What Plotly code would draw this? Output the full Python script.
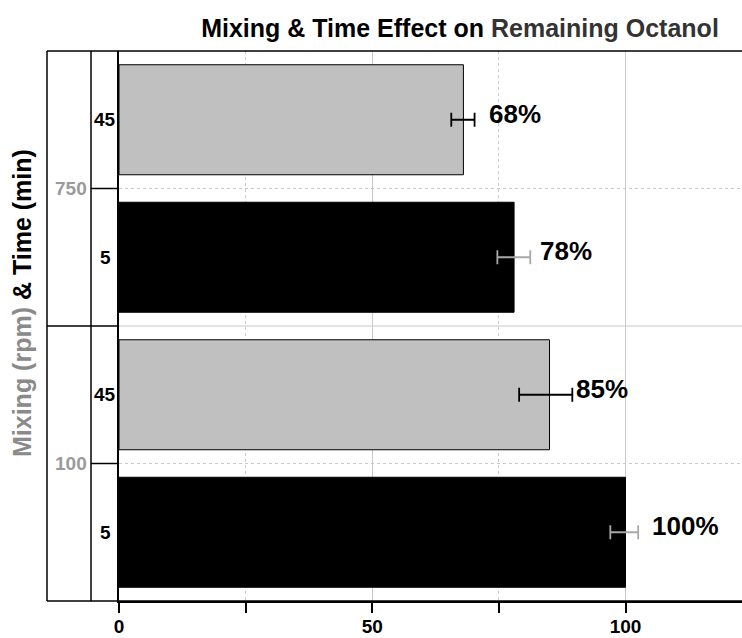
import plotly.graph_objects as go

# ---- data ----
rpm = ["100", "100", "750", "750"]
time_min = ["5", "45", "5", "45"]
remaining = [100, 85, 78, 68]
err_minus = [3.0, 6.0, 3.3, 2.4]
err_plus = [2.5, 4.5, 3.2, 2.2]
x_ticks = [0, 50, 100]

title_black = "Mixing & Time Effect on"
title_grey = "Remaining Octanol"

idx = list(range(len(remaining)))

fig = go.Figure()

styles = {
    "45": dict(fill="#c0c0c0", line="#000000", err="#000000"),
    "5": dict(fill="#000000", line="#000000", err="#a8a8a8"),
}
for t in ["5", "45"]:
    sel = [i for i in idx if time_min[i] == t]
    st = styles[t]
    fig.add_trace(go.Bar(
        orientation="h",
        y=[i for i in sel],
        x=[remaining[i] for i in sel],
        width=0.8,
        marker=dict(color=st["fill"], line=dict(color=st["line"], width=1)),
        error_x=dict(type="data", symmetric=False,
                     array=[err_plus[i] for i in sel],
                     arrayminus=[err_minus[i] for i in sel],
                     color=st["err"], thickness=1.8, width=7),
        showlegend=False,
        hoverinfo="skip",
    ))

# geometry helpers (paper coords)
L, R = 119, 742
W = R - L
def px(p):
    return (p - L) / W
x_out = px(47)
x_in = px(91)

shapes = []
groups = []
for g in rpm:
    if g not in groups:
        groups.append(g)
group_idx = {g: [i for i in idx if rpm[i] == g] for g in groups}
# boundaries between groups
for a, b in zip(groups[:-1], groups[1:]):
    yb = (max(group_idx[a]) + min(group_idx[b])) / 2
    shapes.append(dict(type="line", xref="paper", yref="y", x0=0, x1=1, y0=yb, y1=yb,
                       line=dict(color="#c8c8c8", width=1.2), layer="below"))
    shapes.append(dict(type="line", xref="paper", yref="y", x0=x_out, x1=0, y0=yb, y1=yb,
                       line=dict(color="black", width=1.5)))
# within-group boundaries
group_mid = {}
for g in groups:
    ids = group_idx[g]
    for a, b in zip(ids[:-1], ids[1:]):
        yb = (a + b) / 2
        shapes.append(dict(type="line", xref="paper", yref="y", x0=0, x1=1, y0=yb, y1=yb,
                           line=dict(color="#c8c8c8", width=1.2, dash="dot"), layer="below"))
        shapes.append(dict(type="line", xref="paper", yref="y", x0=x_in, x1=0, y0=yb, y1=yb,
                           line=dict(color="black", width=1.5)))
    group_mid[g] = sum(ids) / len(ids)

# box outlines
for xv in [x_out, x_in]:
    shapes.append(dict(type="line", xref="paper", yref="paper", x0=xv, x1=xv, y0=0, y1=1,
                       line=dict(color="black", width=1.5)))
for yv in [0, 1]:
    shapes.append(dict(type="line", xref="paper", yref="paper", x0=x_out, x1=1, y0=yv, y1=yv,
                       line=dict(color="black", width=1.5)))

annotations = []
# percent labels
for i in idx:
    annotations.append(dict(x=remaining[i], y=i, xref="x", yref="y", text=f"<b>{remaining[i]}%</b>",
                            showarrow=False, xanchor="left", yanchor="middle", xshift=24, yshift=6,
                            font=dict(family="Liberation Sans, Arial", size=26, color="black")))
# time labels
for i in idx:
    annotations.append(dict(x=(x_in + 0) / 2, y=i, xref="paper", yref="y", text=f"<b>{time_min[i]}</b>",
                            showarrow=False, xanchor="center", yanchor="middle",
                            font=dict(family="Liberation Sans, Arial", size=19, color="black")))
# rpm labels
for g in groups:
    annotations.append(dict(x=x_in, y=group_mid[g], xref="paper", yref="y", text=f"<b>{g}</b>",
                            showarrow=False, xanchor="right", yanchor="middle", xshift=-2,
                            font=dict(family="Liberation Sans, Arial", size=19, color="#9a9a9a")))
# y-axis title
annotations.append(dict(x=px(22), y=(601 - 303) / 550, xref="paper", yref="paper",
                        text="<b><span style='color:#8a8a8a'>Mixing (rpm)</span> & Time (min)</b>",
                        showarrow=False, textangle=-90, xanchor="center", yanchor="middle",
                        font=dict(family="Liberation Sans, Arial", size=25, color="black")))

fig.update_layout(
    width=742, height=638,
    margin=dict(l=L, r=0, t=51, b=37, autoexpand=False),
    paper_bgcolor="white", plot_bgcolor="white",
    barmode="overlay",
    title=dict(text=f"<b>{title_black} <span style='color:#333333'>{title_grey}</span></b>",
               x=px(460), xref="paper", xanchor="center", y=1 - 28 / 638, yref="container",
               yanchor="middle",
               font=dict(family="Liberation Sans Narrow, Arial Narrow, Liberation Sans", size=25,
                         color="black")),
    xaxis=dict(range=[0, 123], tickvals=x_ticks, ticktext=[f"<b>{v}</b>" for v in x_ticks],
               ticks="outside", ticklen=10, tickwidth=1.5, tickcolor="black",
               ticklabelstandoff=-3,
               showline=True, linecolor="black", linewidth=1.5,
               showgrid=True, gridcolor="#c8c8c8", gridwidth=1.2, zeroline=False,
               minor=dict(tickvals=[25, 75], showgrid=True, griddash="dot", gridcolor="#c8c8c8",
                          ticks="outside", ticklen=10, tickwidth=1.5, tickcolor="black"),
               tickfont=dict(family="Liberation Sans, Arial", size=19, color="black"),
               fixedrange=True),
    yaxis=dict(range=[-0.5, 3.5], showticklabels=False, ticks="", showgrid=False, zeroline=False,
               showline=True, linecolor="black", linewidth=1.5),
    shapes=shapes,
    annotations=annotations,
)

fig.write_html("out.html")
